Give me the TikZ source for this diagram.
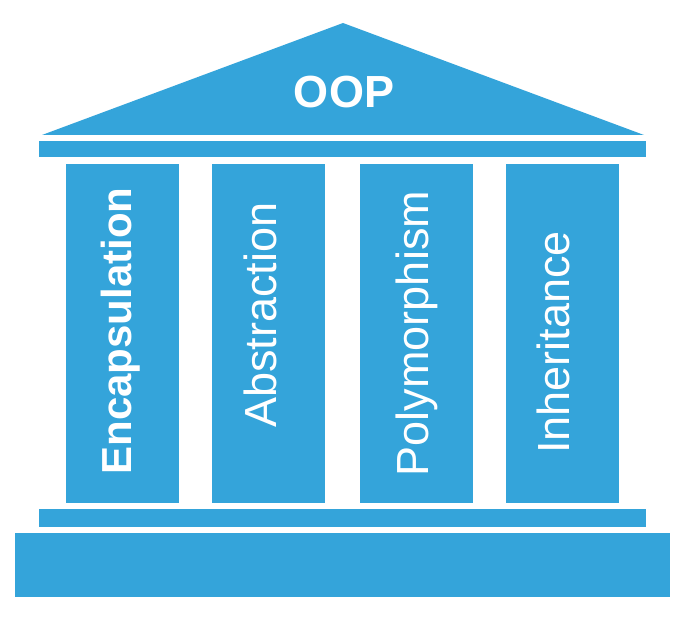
\documentclass[tikz,border=0pt]{standalone}
\usepackage{fontspec}
\setmainfont{Liberation Sans}
\usetikzlibrary{positioning}
\definecolor{oopblue}{HTML}{34A4DA}
\begin{document}
\begin{tikzpicture}[x=1pt,y=-1pt,
  blk/.style={fill=oopblue,draw=none},
  pil/.style={rectangle,fill=oopblue,draw=none,inner sep=0pt,minimum width=113pt,minimum height=339pt},
  lbl/.style={rotate=90,anchor=base,text=white,inner sep=0pt,font=\fontsize{45}{54}\selectfont}]
\useasboundingbox (0,0) rectangle (683,631);
% roof
\fill[blk] (343,23) -- (644,135) -- (42,135) -- cycle;
\node[anchor=base,text=white,inner sep=0pt,font=\fontsize{45}{54}\selectfont\bfseries] (oop) at (344,108) {OOP};
% beams and base
\fill[blk] (39,141) rectangle (646,157);
\fill[blk] (39,509) rectangle (646,527);
\fill[blk] (15,533) rectangle (670,597);
% pillars
\node[pil] (p1) at (122.5,333.5) {};
\node[pil] (p2) at (268.5,333.5) {};
\node[pil] (p3) at (416.5,333.5) {};
\node[pil] (p4) at (562.5,333.5) {};
% labels
\node[lbl,font=\fontsize{42}{50}\selectfont\bfseries] (enc) at (131,331) {Encapsulation};
\node[lbl] (abs) at (276,315) {Abstraction};
\node[lbl] (pol) at (428,333.5) {Polymorphism};
\node[lbl] (inh) at (569,342.5) {Inheritance};
\end{tikzpicture}
\end{document}
